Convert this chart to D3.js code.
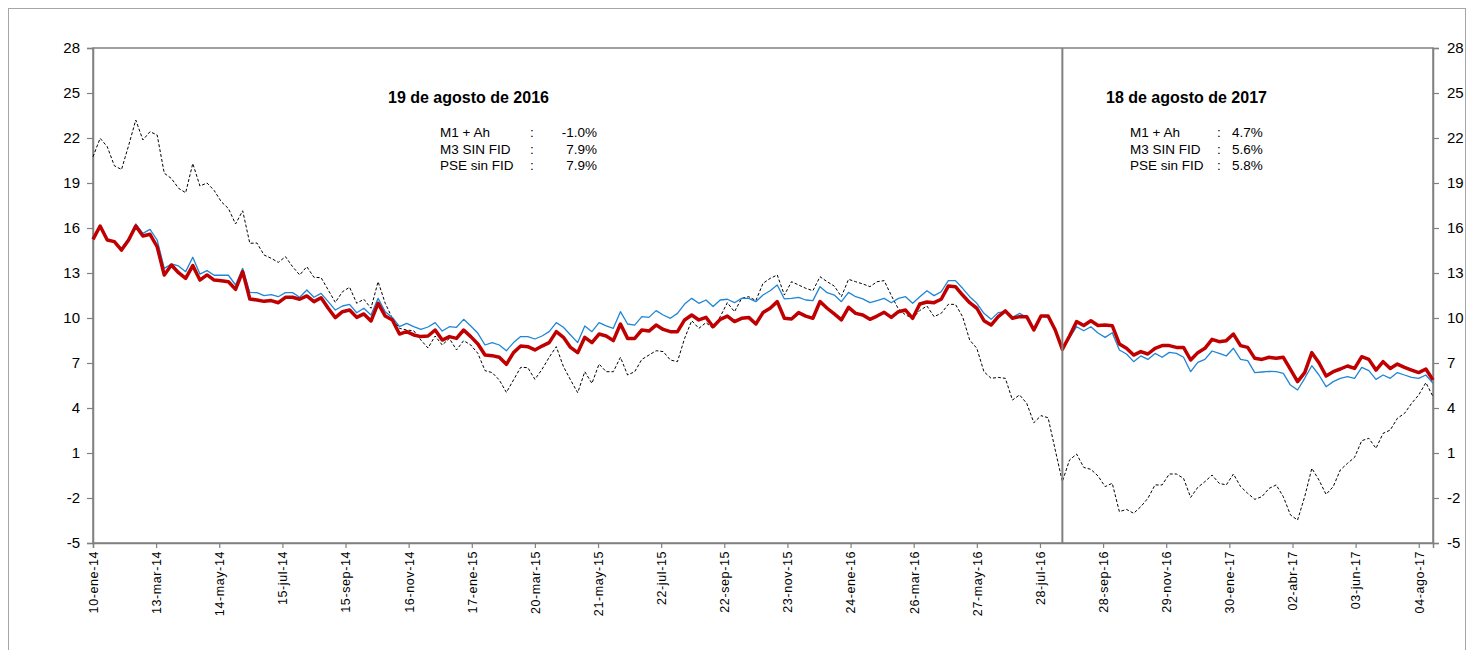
<!DOCTYPE html>
<html>
<head>
<meta charset="utf-8">
<script src="https://cdn.jsdelivr.net/npm/d3@7"></script>
<style>
  body { margin: 0; background: #fff; }
  svg text { font-family: Arial, "Liberation Sans", sans-serif; fill: #000; }
</style>
</head>
<body>
<div id="chart"></div>
<script>
// weekly observations (Fridays), first one on 10-ene-14
const startDate = "2014-01-10";
const markerDate = "2016-08-19";

const xTickLabels = ["10-ene-14", "13-mar-14", "14-may-14", "15-jul-14", "15-sep-14", "16-nov-14",
  "17-ene-15", "20-mar-15", "21-may-15", "22-jul-15", "22-sep-15", "23-nov-15", "24-ene-16",
  "26-mar-16", "27-may-16", "28-jul-16", "28-sep-16", "29-nov-16", "30-ene-17", "02-abr-17",
  "03-jun-17", "04-ago-17"];
const yTicks = [-5, -2, 1, 4, 7, 10, 13, 16, 19, 22, 25, 28];

// M1 + Ah (dashed black)
const m1Ah = [20.75, 21.98, 21.42, 20.15, 19.9, 21.5, 23.2, 21.87, 22.42, 22.2,
  19.65, 19.3, 18.65, 18.35, 20.3, 18.8, 19.0, 18.5, 17.75, 17.3,
  16.27, 17.15, 14.98, 15.0, 14.2, 13.98, 13.71, 14.09, 13.42, 12.87,
  13.42, 12.71, 12.69, 11.87, 11.04, 11.75, 12.05, 10.98, 11.25, 10.65,
  12.42, 10.98, 9.98, 9.31, 9.2, 9.15, 8.53, 8.0, 8.8, 8.2,
  8.64, 7.87, 8.49, 8.2, 7.64, 6.49, 6.36, 5.87, 5.04, 5.87,
  6.71, 6.69, 5.91, 6.58, 7.38, 8.09, 6.76, 5.87, 5.02, 6.42,
  5.64, 6.93, 6.42, 6.42, 7.38, 6.2, 6.42, 7.24, 7.53, 7.82,
  7.76, 7.2, 7.09, 8.64, 9.82, 9.31, 9.69, 9.31, 10.09, 11.02,
  10.42, 11.31, 11.42, 11.16, 12.31, 12.64, 12.87, 11.53, 12.42, 12.2,
  11.98, 11.82, 12.75, 12.42, 12.13, 11.42, 12.58, 12.42, 12.27, 12.09,
  12.42, 12.49, 11.5, 10.6, 10.2, 10.0, 10.5, 10.8, 10.09, 10.31,
  10.91, 10.91, 10.09, 8.53, 7.98, 6.42, 5.98, 6.04, 5.98, 4.53,
  4.87, 4.31, 3.02, 3.49, 3.35, 1.2, -0.91, 0.53, 0.93, 0.04,
  -0.09, -0.53, -1.24, -1.02, -2.91, -2.76, -3.02, -2.58, -2.02, -1.13,
  -1.13, -0.4, -0.4, -0.69, -1.96, -1.29, -0.91, -0.47, -1.02, -1.13,
  -0.4, -1.24, -1.69, -2.09, -1.91, -1.36, -1.13, -1.91, -3.13, -3.47,
  -1.91, -0.02, -0.8, -1.76, -1.24, -0.13, 0.31, 0.71, 1.82, 1.98,
  1.31, 2.31, 2.53, 3.31, 3.64, 4.31, 4.87, 5.69, 4.76];

// M3 SIN FID (thin blue)
const m3SinFid = [15.24, 16.13, 15.2, 15.09, 14.64, 15.3, 16.27, 15.64, 15.91, 15.2,
  13.31, 13.6, 13.47, 13.09, 14.05, 12.93, 13.16, 12.85, 12.85, 12.85,
  12.2, 13.31, 11.71, 11.69, 11.49, 11.56, 11.42, 11.69, 11.69, 11.38,
  11.87, 11.38, 11.64, 11.09, 10.53, 10.8, 10.91, 10.35, 10.65, 10.2,
  11.31, 10.42, 10.04, 9.42, 9.64, 9.42, 9.24, 9.4, 9.69, 9.13,
  9.42, 9.38, 9.91, 9.47, 8.98, 8.2, 8.36, 8.2, 7.82, 8.36,
  8.76, 8.76, 8.6, 8.8, 9.09, 9.69, 9.38, 8.87, 8.36, 9.47,
  9.09, 9.69, 9.47, 9.31, 10.42, 9.6, 9.53, 10.09, 10.04, 10.49,
  10.2, 9.98, 10.31, 10.93, 11.31, 10.98, 11.2, 10.76, 11.2, 11.25,
  11.02, 11.31, 11.31, 11.09, 11.53, 11.82, 12.2, 11.27, 11.31, 11.38,
  11.2, 11.16, 12.09, 11.69, 11.53, 11.09, 11.71, 11.42, 11.27, 11.02,
  11.16, 11.31, 11.02, 11.31, 11.42, 10.98, 11.42, 11.82, 11.49, 11.75,
  12.49, 12.49, 11.98, 11.42, 10.98, 10.31, 9.91, 10.36, 10.42, 10.04,
  10.31, 10.04, 9.2, 10.13, 10.04, 9.18, 7.91, 8.68, 9.42, 9.15,
  9.42, 9.0, 8.71, 9.02, 7.87, 7.6, 7.09, 7.47, 7.24, 7.64,
  7.38, 7.71, 7.64, 7.38, 6.42, 7.04, 7.24, 7.8, 7.64, 7.47,
  7.98, 7.24, 7.16, 6.36, 6.4, 6.44, 6.42, 6.31, 5.53, 5.2,
  5.98, 6.82, 6.2, 5.42, 5.76, 5.98, 6.09, 5.98, 6.71, 6.49,
  5.91, 6.2, 5.98, 6.36, 6.2, 6.04, 5.98, 6.2, 5.64];

// PSE sin FID (thick red)
const pseSinFid = [15.24, 16.13, 15.2, 15.09, 14.53, 15.2, 16.13, 15.47, 15.58, 14.75,
  12.87, 13.53, 13.02, 12.64, 13.49, 12.53, 12.87, 12.53, 12.49, 12.42,
  11.91, 13.09, 11.27, 11.2, 11.11, 11.16, 11.02, 11.38, 11.38, 11.25,
  11.47, 11.09, 11.35, 10.65, 10.02, 10.42, 10.53, 10.04, 10.27, 9.8,
  10.98, 10.13, 9.87, 8.93, 9.09, 8.87, 8.76, 8.8, 9.2, 8.53,
  8.76, 8.64, 9.2, 8.76, 8.27, 7.53, 7.49, 7.38, 6.91, 7.69,
  8.13, 8.09, 7.87, 8.13, 8.36, 9.09, 8.71, 8.04, 7.69, 8.71,
  8.36, 8.93, 8.8, 8.49, 9.6, 8.64, 8.64, 9.2, 9.13, 9.53,
  9.24, 9.09, 9.09, 9.87, 10.2, 9.87, 10.04, 9.42, 9.91, 10.13,
  9.76, 9.98, 10.04, 9.6, 10.36, 10.65, 11.09, 9.98, 9.93, 10.36,
  10.13, 9.98, 11.1, 10.65, 10.27, 9.87, 10.71, 10.31, 10.2, 9.91,
  10.13, 10.38, 10.04, 10.42, 10.53, 9.98, 10.93, 11.07, 11.02, 11.25,
  12.13, 12.09, 11.53, 11.02, 10.65, 9.82, 9.53, 10.09, 10.47, 9.98,
  10.09, 10.09, 9.2, 10.13, 10.13, 9.2, 7.91, 8.8, 9.76, 9.5,
  9.82, 9.5, 9.53, 9.49, 8.27, 7.98, 7.53, 7.76, 7.6, 7.98,
  8.16, 8.16, 8.04, 8.04, 7.2, 7.69, 7.98, 8.58, 8.42, 8.49,
  8.93, 8.16, 8.04, 7.31, 7.24, 7.38, 7.31, 7.38, 6.58, 5.76,
  6.36, 7.69, 7.02, 6.13, 6.42, 6.6, 6.8, 6.64, 7.42, 7.24,
  6.53, 7.09, 6.64, 6.93, 6.71, 6.53, 6.36, 6.6, 5.87];

const noteLeftTitle = "19 de agosto de 2016";
const noteRightTitle = "18 de agosto de 2017";
const noteNames = ["M1 + Ah", "M3 SIN FID", "PSE sin FID"];
const noteLeftValues = ["-1.0%", "7.9%", "7.9%"];
const noteRightValues = ["4.7%", "5.6%", "5.8%"];

const monthIdx = { ene: 0, feb: 1, mar: 2, abr: 3, may: 4, jun: 5, jul: 6, ago: 7, sep: 8, oct: 9, nov: 10, dic: 11 };
function parseLabel(s) {
  var p = s.split("-");
  return new Date(Date.UTC(2000 + +p[2], monthIdx[p[1]], +p[0]));
}

var parseIso = d3.utcParse("%Y-%m-%d");
var t0 = parseIso(startDate);
var dates = m1Ah.map(function(d, i) { return d3.utcDay.offset(t0, 7 * i); });
var tickDates = xTickLabels.map(parseLabel);

const W = 1474, H = 650;
const margin = { left: 93, right: 41, top: 48, bottom: 107 };
const width = W - margin.left - margin.right,
      height = H - margin.top - margin.bottom;

var svg = d3.select("#chart").append("svg")
  .attr("width", W)
  .attr("height", H);

// outer frame
svg.append("rect")
  .attr("x", 8.5).attr("y", 8.5)
  .attr("width", 1457).attr("height", 660)
  .attr("fill", "none")
  .attr("stroke", "#a6a6a6")
  .attr("stroke-width", 1);

var g = svg.append("g")
  .attr("transform", "translate(" + margin.left + "," + margin.top + ")");

const xScale = d3.scaleUtc()
  .domain([dates[0], dates[dates.length - 1]])
  .range([0, width]);
const yScale = d3.scaleLinear()
  .domain([-5, 28])
  .range([height, 0]);

// plot frame
g.append("rect")
  .attr("width", width).attr("height", height)
  .attr("fill", "none")
  .attr("stroke", "#808080")
  .attr("stroke-width", 1.5);

// axes (plain hyphen for negatives, as in the original)
const plain = function(d) { return String(d); };
const yAxisL = d3.axisLeft(yScale).tickValues(yTicks).tickSize(6).tickPadding(7).tickFormat(plain);
const yAxisR = d3.axisRight(yScale).tickValues(yTicks).tickSize(6).tickPadding(8).tickFormat(plain);
const xAxis = d3.axisBottom(xScale).tickValues(tickDates).tickSize(5)
  .tickFormat(function(d, i) { return xTickLabels[i]; });

function styleAxis(sel) {
  sel.select(".domain").attr("stroke", "#808080").attr("stroke-width", 1.5);
  sel.selectAll(".tick line").attr("stroke", "#808080").attr("stroke-width", 1.2);
}

var yAxisLG = g.append("g").call(yAxisL);
var yAxisRG = g.append("g").attr("transform", "translate(" + width + ",0)").call(yAxisR);
[yAxisLG, yAxisRG].forEach(function(a) {
  styleAxis(a);
  a.selectAll("text").attr("font-size", 15).attr("font-family", null);
});

var xAxisG = g.append("g").attr("transform", "translate(0," + height + ")").call(xAxis);
styleAxis(xAxisG);
xAxisG.selectAll("text")
  .attr("font-size", 12.5)
  .attr("font-family", null)
  .attr("letter-spacing", "0.6px")
  .attr("transform", "rotate(-90)")
  .attr("text-anchor", "end")
  .attr("x", -8)
  .attr("y", 0)
  .attr("dy", "0.35em");

// series
function series(values) {
  return values.map(function(v, i) { return { date: dates[i], value: v }; });
}
const line = d3.line()
  .x(function(d) { return xScale(d.date); })
  .y(function(d) { return yScale(d.value); });

g.append("path")
  .datum(series(m1Ah))
  .attr("fill", "none")
  .attr("stroke", "#000")
  .attr("stroke-width", 1)
  .attr("stroke-dasharray", "3,2")
  .attr("d", line);

g.append("path")
  .datum(series(m3SinFid))
  .attr("fill", "none")
  .attr("stroke", "#1f86d6")
  .attr("stroke-width", 1.3)
  .attr("stroke-linejoin", "round")
  .attr("d", line);

g.append("path")
  .datum(series(pseSinFid))
  .attr("fill", "none")
  .attr("stroke", "#c00000")
  .attr("stroke-width", 3.5)
  .attr("stroke-linejoin", "round")
  .attr("d", line);

// marker line on 19-ago-16
var xm = xScale(parseIso(markerDate));
g.append("line")
  .attr("x1", xm).attr("x2", xm)
  .attr("y1", 0).attr("y2", height)
  .attr("stroke", "#808080")
  .attr("stroke-width", 2);

// notes
function drawNote(title, tx, ty, labelX, colonX, valX, valAnchor, values) {
  svg.append("text")
    .attr("x", tx).attr("y", ty)
    .attr("font-size", 16)
    .attr("font-weight", "bold")
    .text(title);
  noteNames.forEach(function(n, i) {
    var yy = ty + 34 + i * 16.5;
    svg.append("text").attr("x", labelX).attr("y", yy).attr("font-size", 13.5).text(n);
    svg.append("text").attr("x", colonX).attr("y", yy).attr("font-size", 13.5).text(":");
    svg.append("text").attr("x", valX).attr("y", yy).attr("font-size", 13.5)
      .attr("text-anchor", valAnchor).text(values[i]);
  });
}
drawNote(noteLeftTitle, 388, 103, 440, 530, 597, "end", noteLeftValues);
drawNote(noteRightTitle, 1106, 103, 1130, 1217, 1232, "start", noteRightValues);
</script>
</body>
</html>
